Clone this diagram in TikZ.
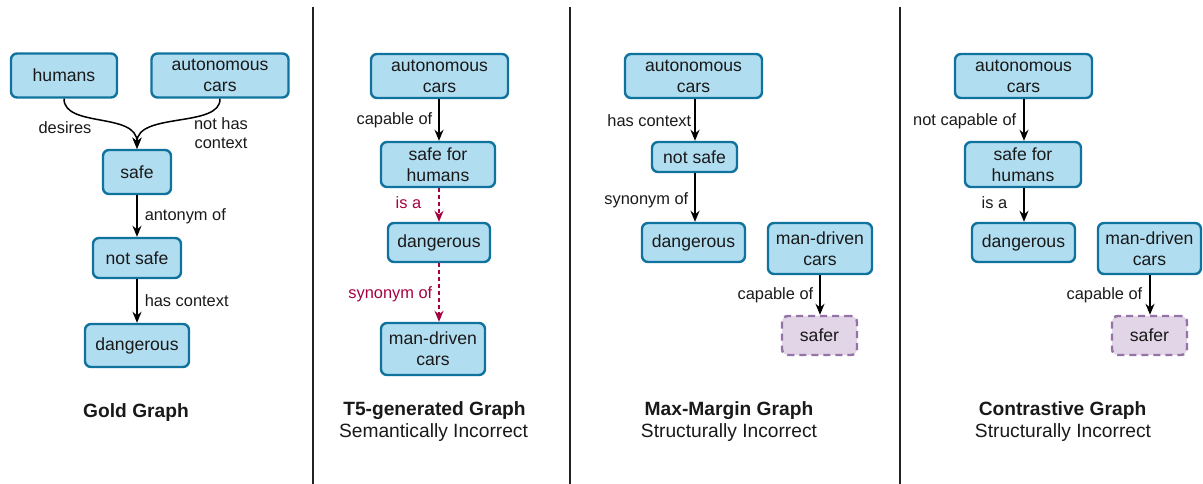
\documentclass[tikz,border=0pt]{standalone}
\usepackage{fontspec}
\setmainfont{Liberation Sans}
\usetikzlibrary{arrows.meta}
\definecolor{boxfill}{HTML}{B1DDF0}
\definecolor{boxdraw}{HTML}{10739E}
\definecolor{purfill}{HTML}{E1D5E7}
\definecolor{purdraw}{HTML}{9673A6}
\definecolor{crim}{HTML}{A50040}
\definecolor{sep}{HTML}{222222}
\tikzset{
  box/.style={rectangle, rounded corners=6pt, draw=boxdraw, fill=boxfill, line width=2.4pt,
    align=center, inner sep=0pt, font=\fontsize{17.6}{21}\selectfont, text=black!90},
  pbox/.style={box, draw=purdraw, fill=purfill, dash pattern=on 7pt off 5pt},
  rel/.style={-{Stealth[length=11pt,width=9pt,inset=3.5pt]}, line width=1.5pt, black},
  bad/.style={rel, crim, dash pattern=on 4pt off 3pt},
  lab/.style={font=\fontsize{16.4}{19}\selectfont, text=black!90, inner sep=0pt, align=center},
  blab/.style={lab, text=crim},
  ttl/.style={font=\fontsize{19.2}{22}\selectfont\bfseries, text=black!90, inner sep=0pt},
  sub/.style={font=\fontsize{19.2}{22}\selectfont, text=black!90, inner sep=0pt},
  sepline/.style={draw=sep, line width=1.5pt}
}
\begin{document}
\begin{tikzpicture}[x=1pt,y=-1pt]
\useasboundingbox (0,0) rectangle (1203,484);
% separators
\coordinate (s1t) at (313,7); \coordinate (s1b) at (313,484);
\coordinate (s2t) at (570,7); \coordinate (s2b) at (570,484);
\coordinate (s3t) at (900,7); \coordinate (s3b) at (900,484);
\draw[sepline] (s1t) -- (s1b);
\draw[sepline] (s2t) -- (s2b);
\draw[sepline] (s3t) -- (s3b);

% ---------- Panel 1: Gold Graph
\node[box, minimum width=106pt, minimum height=44pt] (hum) at (64,75.5) {humans};
\node[box, minimum width=137pt, minimum height=44pt] (ac1) at (220,75.5) {autonomous\\cars};
\node[box, minimum width=68pt, minimum height=44pt] (safe1) at (137,172) {safe};
\node[box, minimum width=88pt, minimum height=40pt] (ns1) at (137,258) {not safe};
\node[box, minimum width=104pt, minimum height=43pt] (dg1) at (137,345.5) {dangerous};
\draw[rel] (hum.south) .. controls (64,128) and (137,112) .. (safe1.north);
\draw[rel] (ac1.south) .. controls (221,128) and (137,112) .. (safe1.north);
\node[lab] (l1a) at (65,128) {desires};
\node[lab] (l1b) at (221,133) {not has\\context};
\draw[rel] (safe1.south) -- node[lab, anchor=west, xshift=7pt] (l1c) {antonym of} (ns1.north);
\draw[rel] (ns1.south) -- node[lab, anchor=west, xshift=7pt] (l1d) {has context} (dg1.north);
\node[ttl] (t1) at (136,413) {Gold Graph};

% ---------- Panel 2: T5-generated Graph
\node[box, minimum width=137pt, minimum height=44pt] (ac2) at (439.5,76) {autonomous\\cars};
\node[box, minimum width=114pt, minimum height=45pt] (sfh2) at (438,164.5) {safe for\\humans};
\node[box, minimum width=102pt, minimum height=39pt] (dg2) at (439,242.5) {dangerous};
\node[box, minimum width=104pt, minimum height=52pt] (md2) at (433,349) {man-driven\\cars};
\draw[rel] (ac2.south -| 439,0) -- node[lab, anchor=east, xshift=-6pt] (l2a) {capable of} (sfh2.north -| 439,0);
\draw[bad] (sfh2.south -| 439,0) -- node[blab, anchor=east, xshift=-17pt, yshift=2pt] (l2b) {is a} (dg2.north -| 439,0);
\draw[bad] (dg2.south -| 439,0) -- node[blab, anchor=east, xshift=-6pt, yshift=-2pt] (l2c) {synonym of} (md2.north -| 439,0);
\node[ttl] (t2) at (434.5,411) {T5-generated Graph};
\node[sub] (s2) at (433.5,433) {Semantically Incorrect};

% ---------- Panel 3: Max-Margin Graph
\node[box, minimum width=137pt, minimum height=44pt] (ac3) at (693.5,76) {autonomous\\cars};
\node[box, minimum width=85pt, minimum height=30pt] (ns3) at (694.5,157) {not safe};
\node[box, minimum width=103pt, minimum height=39pt] (dg3) at (693.5,242.5) {dangerous};
\node[box, minimum width=104pt, minimum height=51pt] (md3) at (820,248.5) {man-driven\\cars};
\node[pbox, minimum width=75pt, minimum height=39pt] (sf3) at (819.5,335.5) {safer};
\draw[rel] (ac3.south -| 695,0) -- node[lab, anchor=east, xshift=-3pt, yshift=-1pt] (l3a) {has context} (ns3.north -| 695,0);
\draw[rel] (ns3.south -| 695,0) -- node[lab, anchor=east, xshift=-6pt, yshift=-3pt] (l3b) {synonym of} (dg3.north -| 695,0);
\draw[rel] (md3.south -| 820,0) -- node[lab, anchor=east, xshift=-6pt] (l3c) {capable of} (sf3.north -| 820,0);
\node[ttl] (t3) at (729,411) {Max-Margin Graph};
\node[sub] (s3) at (729,433) {Structurally Incorrect};

% ---------- Panel 4: Contrastive Graph
\node[box, minimum width=137pt, minimum height=44pt] (ac4) at (1023.5,76) {autonomous\\cars};
\node[box, minimum width=116pt, minimum height=45pt] (sfh4) at (1023,164.5) {safe for\\humans};
\node[box, minimum width=103pt, minimum height=39pt] (dg4) at (1023.5,242.5) {dangerous};
\node[box, minimum width=103pt, minimum height=51pt] (md4) at (1149.5,248.5) {man-driven\\cars};
\node[pbox, minimum width=75pt, minimum height=39pt] (sf4) at (1149.5,335.5) {safer};
\draw[rel] (ac4.south -| 1024,0) -- node[lab, anchor=east, xshift=-7pt, yshift=-1pt] (l4a) {not capable of} (sfh4.north -| 1024,0);
\draw[rel] (sfh4.south -| 1024,0) -- node[lab, anchor=east, xshift=-16pt, yshift=2pt] (l4b) {is a} (dg4.north -| 1024,0);
\draw[rel] (md4.south -| 1150,0) -- node[lab, anchor=east, xshift=-7pt] (l4c) {capable of} (sf4.north -| 1150,0);
\node[ttl] (t4) at (1062.5,411) {Contrastive Graph};
\node[sub] (s4) at (1063,433) {Structurally Incorrect};
\end{tikzpicture}
\end{document}
